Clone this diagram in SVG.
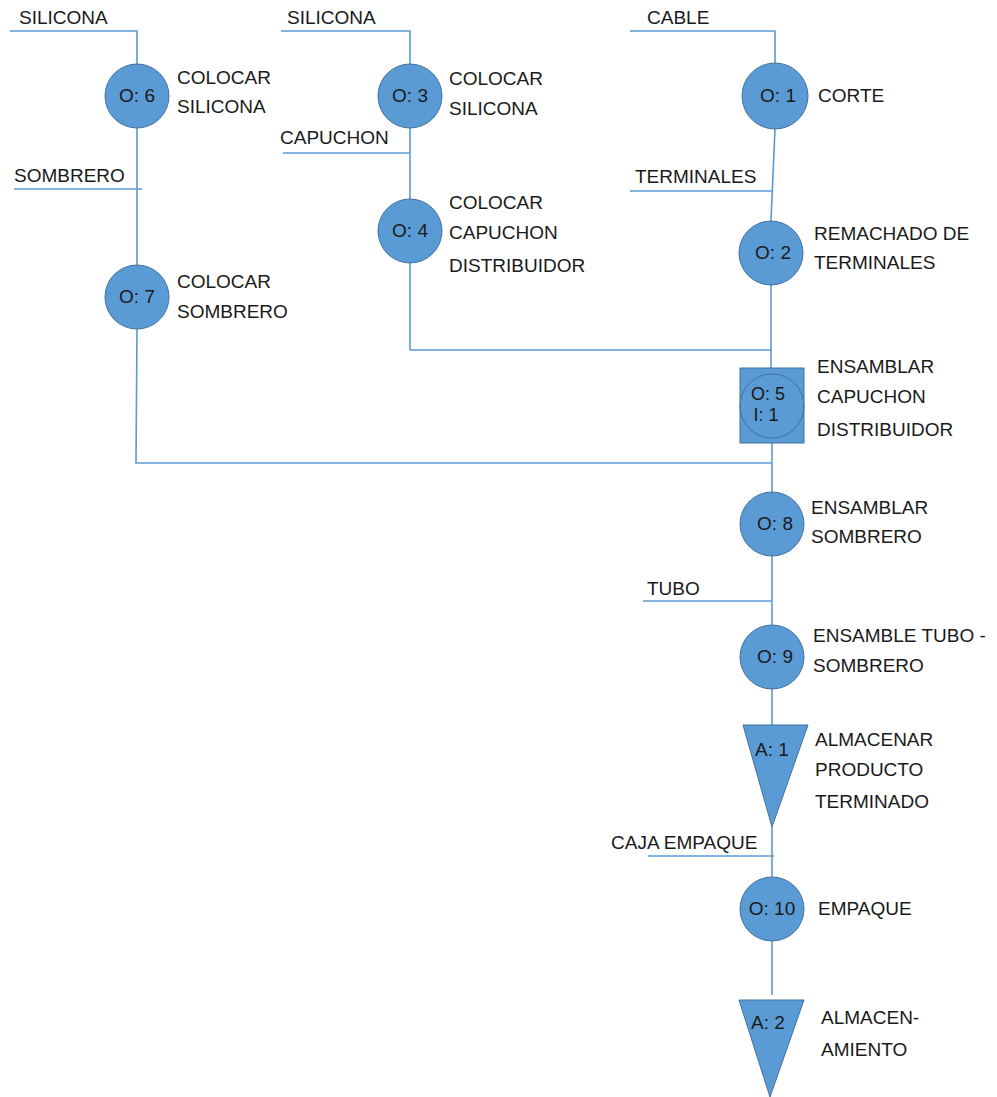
<svg xmlns="http://www.w3.org/2000/svg" width="997" height="1097" viewBox="0 0 997 1097">
<style>
.ln{stroke:#5B9BD5;stroke-width:1.6;fill:none}
.sh{fill:#5B9BD5;stroke:#41719C;stroke-width:1}
.t{font-family:"Liberation Sans",Arial,sans-serif;font-size:19px;fill:#1a1a1a}
.c{text-anchor:middle}
.s{font-size:18px}
</style>
<rect width="997" height="1097" fill="#fff"/>
<g id="connectors">
<polyline class="ln" points="10,31 137,31 137,64"/>
<line class="ln" x1="137" y1="128" x2="137" y2="265"/>
<line class="ln" x1="14" y1="189" x2="142" y2="189"/>
<polyline class="ln" points="137,329 136,463 772,463"/>
<polyline class="ln" points="281,31 410,31 410,64"/>
<line class="ln" x1="410" y1="128" x2="410" y2="199"/>
<line class="ln" x1="283" y1="153" x2="410" y2="153"/>
<polyline class="ln" points="410,263 410,350 772,350"/>
<polyline class="ln" points="630,31 775,31 775,63"/>
<line class="ln" x1="775" y1="129" x2="771" y2="221"/>
<line class="ln" x1="630" y1="191" x2="773" y2="191"/>
<line class="ln" x1="771" y1="285" x2="771" y2="368"/>
<line class="ln" x1="772" y1="443" x2="772" y2="492"/>
<line class="ln" x1="772" y1="556" x2="772" y2="625"/>
<line class="ln" x1="643" y1="601" x2="772" y2="601"/>
<line class="ln" x1="772" y1="689" x2="772" y2="725"/>
<line class="ln" x1="772" y1="827" x2="772" y2="877"/>
<line class="ln" x1="648" y1="856" x2="774" y2="856"/>
<line class="ln" x1="772" y1="941" x2="772" y2="995"/>
</g>
<g id="labels-inputs">
<text class="t" x="19" y="24">SILICONA</text>
<text class="t" x="14" y="182">SOMBRERO</text>
<text class="t" x="287" y="24">SILICONA</text>
<text class="t" x="280" y="144">CAPUCHON</text>
<text class="t" x="647" y="24">CABLE</text>
<text class="t" x="635" y="183">TERMINALES</text>
<text class="t" x="647" y="595">TUBO</text>
<text class="t" x="611" y="849">CAJA EMPAQUE</text>
</g>
<g id="op6">
<circle class="sh" cx="137" cy="96" r="32"/>
<text class="t c" x="137" y="102">O: 6</text>
<text class="t" x="177" y="84">COLOCAR</text>
<text class="t" x="177" y="113">SILICONA</text>
</g>
<g id="op7">
<circle class="sh" cx="137" cy="297" r="32"/>
<text class="t c" x="137" y="303">O: 7</text>
<text class="t" x="177" y="288">COLOCAR</text>
<text class="t" x="177" y="318">SOMBRERO</text>
</g>
<g id="op3">
<circle class="sh" cx="410" cy="96" r="32"/>
<text class="t c" x="410" y="102">O: 3</text>
<text class="t" x="449" y="85">COLOCAR</text>
<text class="t" x="449" y="115">SILICONA</text>
</g>
<g id="op4">
<circle class="sh" cx="410" cy="231" r="32"/>
<text class="t c" x="410" y="237">O: 4</text>
<text class="t" x="449" y="209">COLOCAR</text>
<text class="t" x="449" y="239">CAPUCHON</text>
<text class="t" x="449" y="272">DISTRIBUIDOR</text>
</g>
<g id="op1">
<circle class="sh" cx="775" cy="96" r="33"/>
<text class="t c" x="778" y="102">O: 1</text>
<text class="t" x="818" y="102">CORTE</text>
</g>
<g id="op2">
<circle class="sh" cx="771" cy="253" r="32"/>
<text class="t c" x="773" y="259">O: 2</text>
<text class="t" x="814" y="240">REMACHADO DE</text>
<text class="t" x="814" y="269">TERMINALES</text>
</g>
<g id="op5">
<rect class="sh" x="740" y="368" width="64" height="75"/>
<circle cx="772" cy="406" r="32" fill="none" stroke="#41719C" stroke-width="1"/>
<text class="t c s" x="768" y="400">O: 5</text>
<text class="t c s" x="766" y="421">I: 1</text>
<text class="t" x="817" y="373">ENSAMBLAR</text>
<text class="t" x="817" y="403">CAPUCHON</text>
<text class="t" x="817" y="436">DISTRIBUIDOR</text>
</g>
<g id="op8">
<circle class="sh" cx="772" cy="524" r="32"/>
<text class="t c" x="775" y="530">O: 8</text>
<text class="t" x="811" y="514">ENSAMBLAR</text>
<text class="t" x="811" y="543">SOMBRERO</text>
</g>
<g id="op9">
<circle class="sh" cx="772" cy="657" r="32"/>
<text class="t c" x="775" y="663">O: 9</text>
<text class="t" x="813" y="642">ENSAMBLE TUBO -</text>
<text class="t" x="813" y="672">SOMBRERO</text>
</g>
<g id="a1">
<polygon class="sh" points="743,725 808,725 772,827"/>
<text class="t c" x="772" y="756">A: 1</text>
<text class="t" x="815" y="746">ALMACENAR</text>
<text class="t" x="815" y="776">PRODUCTO</text>
<text class="t" x="815" y="808">TERMINADO</text>
</g>
<g id="op10">
<circle class="sh" cx="772" cy="909" r="32"/>
<text class="t c" x="772" y="915">O: 10</text>
<text class="t" x="818" y="915">EMPAQUE</text>
</g>
<g id="a2">
<polygon class="sh" points="739,1000 804,1000 770,1097"/>
<text class="t c" x="768" y="1029">A: 2</text>
<text class="t" x="821" y="1024">ALMACEN-</text>
<text class="t" x="821" y="1056">AMIENTO</text>
</g>
</svg>
